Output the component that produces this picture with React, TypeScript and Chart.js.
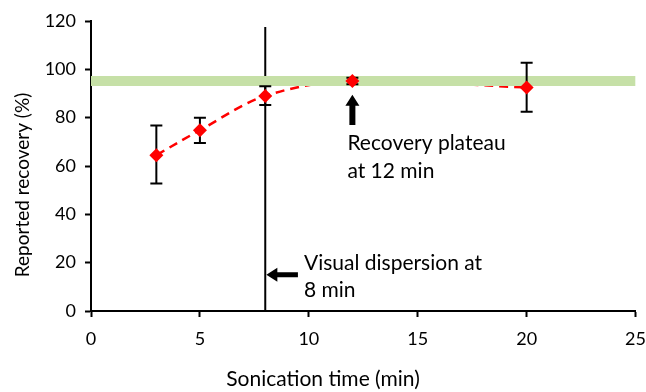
import React, { useEffect, useRef } from "react";
import { Chart, registerables } from "chart.js";

Chart.register(...registerables);

const times = [3, 5, 8, 12, 20];
const recovery = [64.5, 74.8, 89.0, 95.2, 92.5];
const errLow = [52.8, 69.5, 85.2, 93.8, 82.5];
const errHigh = [76.8, 80.0, 93.0, 96.5, 102.7];

const bandX = [0, 25];
const bandY = [95.2, 95.2];
const dispersionX = [8, 8];
const dispersionY = [0, 117.5];

const xTicks = [0, 5, 10, 15, 20, 25];
const yTicks = [0, 20, 40, 60, 80, 100, 120];

const xTitle = "Sonication time (min)";
const yTitle = "Reported recovery (%)";

// annotations: arrows anchored in data units
const plateauArrow = { x: 12, yTip: 89.5, yTail: 77 };
const plateauText = ["Recovery plateau", "at 12 min"];
const dispersionArrow = { y: 15, xTip: 8.05, xTail: 9.5 };
const dispersionText = ["Visual dispersion at", "8 min"];

const FONT = "Lato, 'Open Sans', sans-serif";

const overlayPlugin = {
  id: "overlay",
  afterDatasetsDraw(chart: any) {
    const { ctx, scales } = chart;
    const xs = scales.x;
    const ys = scales.y;
    ctx.save();
    // error bars
    ctx.strokeStyle = "#000";
    ctx.lineWidth = 2;
    for (let i = 0; i < times.length; i++) {
      const px = xs.getPixelForValue(times[i]);
      const lo = ys.getPixelForValue(errLow[i]);
      const hi = ys.getPixelForValue(errHigh[i]);
      ctx.beginPath();
      ctx.moveTo(px, lo);
      ctx.lineTo(px, hi);
      ctx.moveTo(px - 6, lo);
      ctx.lineTo(px + 6, lo);
      ctx.moveTo(px - 6, hi);
      ctx.lineTo(px + 6, hi);
      ctx.stroke();
    }
    // markers on top
    const meta = chart.getDatasetMeta(2);
    ctx.fillStyle = "#ff0000";
    meta.data.forEach((pt: any) => {
      const r = 7;
      ctx.beginPath();
      ctx.moveTo(pt.x, pt.y - r);
      ctx.lineTo(pt.x + r, pt.y);
      ctx.lineTo(pt.x, pt.y + r);
      ctx.lineTo(pt.x - r, pt.y);
      ctx.closePath();
      ctx.fill();
    });

    ctx.fillStyle = "#000";
    // up arrow
    {
      const px = xs.getPixelForValue(plateauArrow.x);
      const tip = ys.getPixelForValue(plateauArrow.yTip);
      const tail = ys.getPixelForValue(plateauArrow.yTail);
      const hw = 7, sw = 3, hl = 11;
      ctx.beginPath();
      ctx.moveTo(px, tip);
      ctx.lineTo(px + hw, tip + hl);
      ctx.lineTo(px + sw, tip + hl);
      ctx.lineTo(px + sw, tail);
      ctx.lineTo(px - sw, tail);
      ctx.lineTo(px - sw, tip + hl);
      ctx.lineTo(px - hw, tip + hl);
      ctx.closePath();
      ctx.fill();
    }
    // left arrow
    {
      const py = ys.getPixelForValue(dispersionArrow.y);
      const tip = xs.getPixelForValue(dispersionArrow.xTip);
      const tail = xs.getPixelForValue(dispersionArrow.xTail);
      const hw = 7, sw = 2.5, hl = 11;
      ctx.beginPath();
      ctx.moveTo(tip, py);
      ctx.lineTo(tip + hl, py - hw);
      ctx.lineTo(tip + hl, py - sw);
      ctx.lineTo(tail, py - sw);
      ctx.lineTo(tail, py + sw);
      ctx.lineTo(tip + hl, py + sw);
      ctx.lineTo(tip + hl, py + hw);
      ctx.closePath();
      ctx.fill();
    }
    // annotation texts
    ctx.font = `21px ${FONT}`;
    ctx.textBaseline = "middle";
    ctx.textAlign = "left";
    {
      const px = xs.getPixelForValue(plateauArrow.x) - 5;
      const py = ys.getPixelForValue(plateauArrow.yTail) + 18;
      ctx.fillText(plateauText[0], px, py);
      ctx.fillText(plateauText[1], px, py + 28);
    }
    {
      const px = xs.getPixelForValue(dispersionArrow.xTail) + 6;
      const py = ys.getPixelForValue(dispersionArrow.y) - 12;
      ctx.fillText(dispersionText[0], px, py);
      ctx.fillText(dispersionText[1], px, py + 27);
    }
    // axis titles
    ctx.textAlign = "center";
    ctx.fillText(xTitle, 323, 379);
    ctx.translate(23, 185);
    ctx.rotate(-Math.PI / 2);
    ctx.font = `19px ${FONT}`;
    ctx.fillText(yTitle, 0, 0);
    ctx.restore();
  },
};

export default function App() {
  const ref = useRef<HTMLCanvasElement>(null);
  useEffect(() => {
    if (!ref.current) return;
    const chart = new Chart(ref.current, {
      type: "scatter",
      data: {
        datasets: [
          {
            data: bandX.map((x, i) => ({ x, y: bandY[i] })),
            showLine: true,
            borderColor: "#c6e0a7",
            borderWidth: 10,
            pointRadius: 0,
            borderCapStyle: "butt",
          },
          {
            data: dispersionX.map((x, i) => ({ x, y: dispersionY[i] })),
            showLine: true,
            borderColor: "#000",
            borderWidth: 2,
            pointRadius: 0,
          },
          {
            data: times.map((x, i) => ({ x, y: recovery[i] })),
            showLine: true,
            borderColor: "#ff0000",
            borderWidth: 2.5,
            borderDash: [9, 6],
            tension: 0.35,
            pointRadius: 0,
          },
        ],
      } as any,
      options: {
        animation: false,
        responsive: false,
        maintainAspectRatio: false,
        layout: { padding: { top: 21, right: 0, left: 0, bottom: 0 } },
        plugins: { legend: { display: false }, tooltip: { enabled: false } },
        scales: {
          x: {
            type: "linear",
            min: 0,
            max: 25,
            afterBuildTicks: (s: any) => {
              s.ticks = xTicks.map((v) => ({ value: v }));
            },
            afterFit: (s: any) => {
              s.height = 81;
            },
            ticks: {
              color: "#000",
              font: { family: FONT, size: 18 },
              padding: 11,
            },
            grid: {
              drawOnChartArea: false,
              drawTicks: true,
              tickLength: 6,
              tickColor: "#000",
              tickWidth: 2,
            },
            border: { color: "#000", width: 2 },
          },
          y: {
            type: "linear",
            min: 0,
            max: 120,
            afterBuildTicks: (s: any) => {
              s.ticks = yTicks.map((v) => ({ value: v }));
            },
            afterFit: (s: any) => {
              s.width = 91;
            },
            ticks: {
              color: "#000",
              font: { family: FONT, size: 18 },
              padding: 9,
            },
            grid: {
              drawOnChartArea: false,
              drawTicks: true,
              tickLength: 6,
              tickColor: "#000",
              tickWidth: 2,
            },
            border: { color: "#000", width: 2 },
          },
        },
      } as any,
      plugins: [overlayPlugin],
    });
    return () => chart.destroy();
  }, []);
  return (
    <div style={{ position: "fixed", left: 0, top: 0, width: 646, height: 392, overflow: "hidden", background: "#fff" }}>
      <canvas ref={ref} width={657} height={392} style={{ width: 657, height: 392, display: "block" }} />
    </div>
  );
}
